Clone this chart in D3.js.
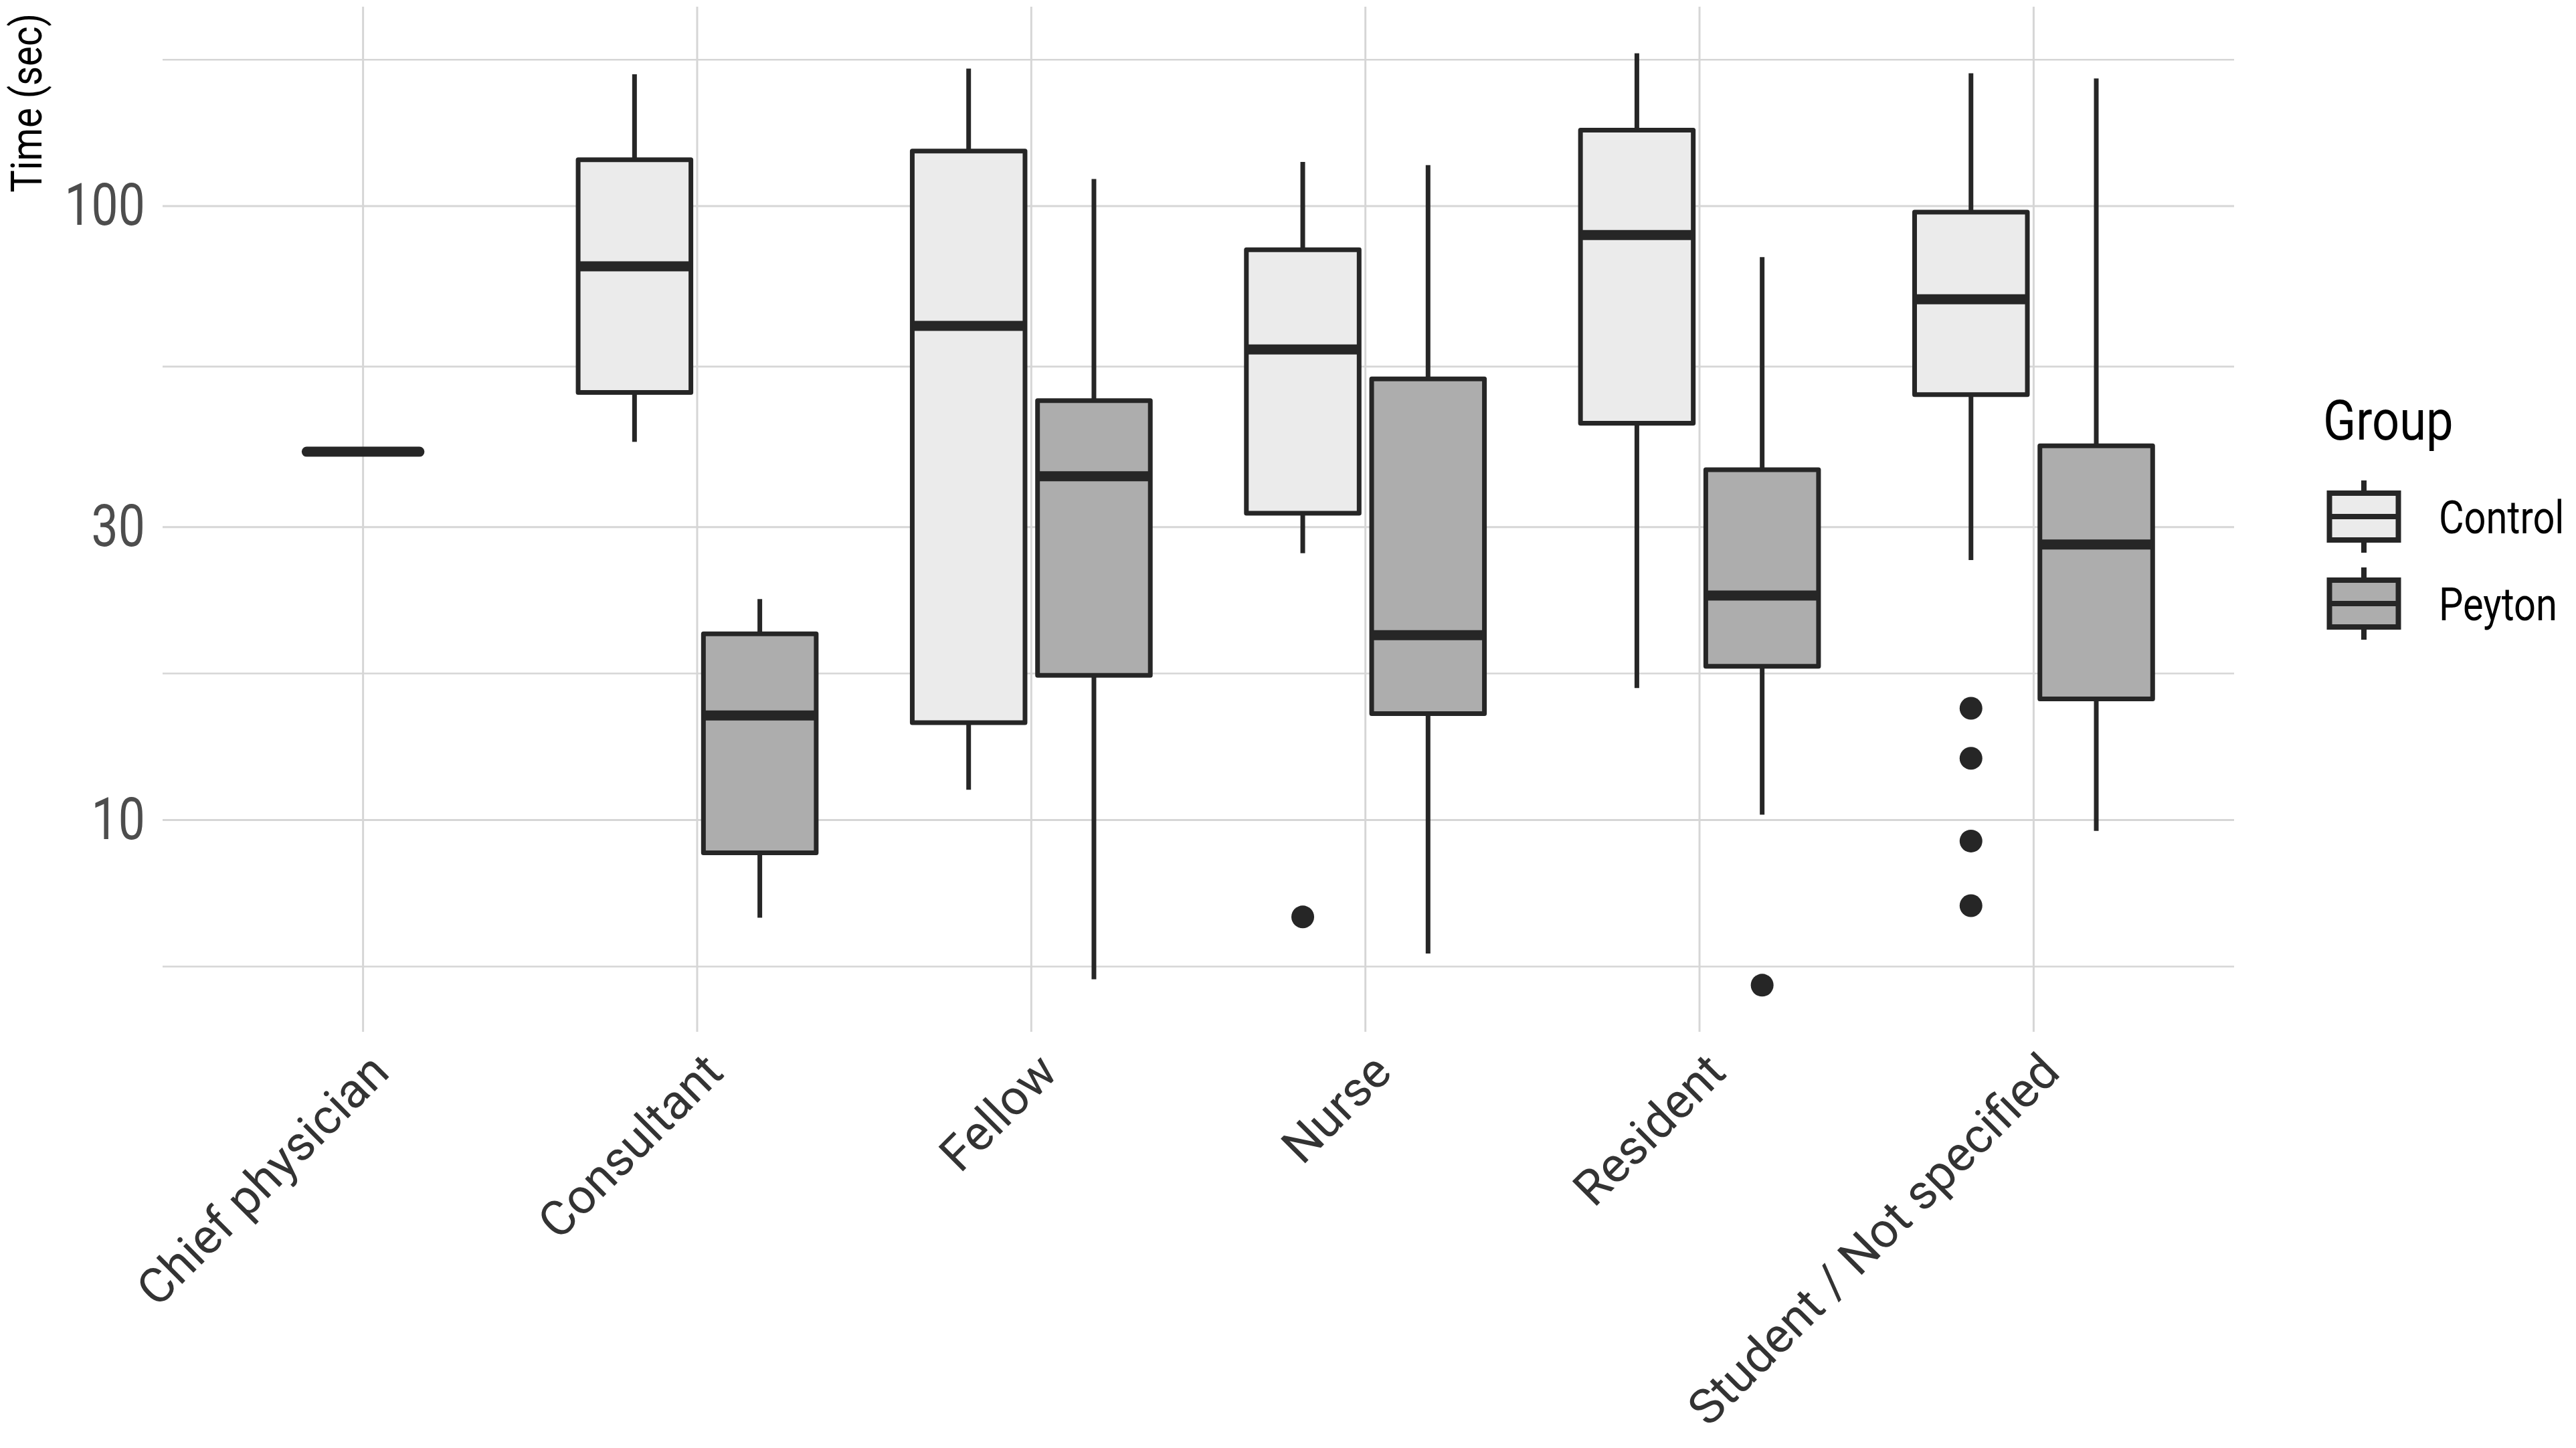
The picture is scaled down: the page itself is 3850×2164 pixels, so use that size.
<!DOCTYPE html>
<html lang="en">
  <head>
    <meta charset="UTF-8" />
    <title>Time by profession</title>
    <style>
      body { margin: 0; background: #fff; }
      text { font-family: Roboto, "Noto Sans", sans-serif; }
    </style>
  </head>
  <body>
    <svg id="svg" width="3850" height="2164"></svg>
    <script src="https://d3js.org/d3.v7.min.js"></script>
    <script>
      // Data
      const categories = [
        "Chief physician",
        "Consultant",
        "Fellow",
        "Nurse",
        "Resident",
        "Student / Not specified",
      ];
      const groups = ["Control", "Peyton"];

      const boxCategory = [
        "Chief physician",
        "Consultant", "Consultant",
        "Fellow", "Fellow",
        "Nurse", "Nurse",
        "Resident", "Resident",
        "Student / Not specified", "Student / Not specified",
      ];
      const boxGroup = [
        "Control",
        "Control", "Peyton",
        "Control", "Peyton",
        "Control", "Peyton",
        "Control", "Peyton",
        "Control", "Peyton",
      ];
      const whiskerLow = [39.8, 41.3, 6.93, 11.2, 5.5, 27.2, 6.06, 16.4, 10.2, 26.5, 9.6];
      const q1 = [39.8, 49.7, 8.84, 14.4, 17.2, 31.6, 14.9, 44.3, 17.8, 49.3, 15.75];
      const median = [39.8, 79.8, 14.8, 63.8, 36.3, 58.4, 20.0, 89.7, 23.2, 70.5, 28.1];
      const q3 = [39.8, 119, 20.1, 122.9, 48.2, 84.9, 52.3, 133, 37.2, 97.8, 40.7];
      const whiskerHigh = [39.8, 164, 22.9, 167.5, 110.7, 118, 116.6, 177.4, 82.6, 164.6, 161.4];

      const outlierCategory = [
        "Nurse",
        "Resident",
        "Student / Not specified",
        "Student / Not specified",
        "Student / Not specified",
        "Student / Not specified",
      ];
      const outlierGroup = ["Control", "Peyton", "Control", "Control", "Control", "Control"];
      const outlierValue = [6.95, 5.38, 15.2, 12.6, 9.24, 7.25];

      const yTicks = [10, 30, 100];
      const yMinorTicks = [5.77, 17.32, 54.77, 173.2];

      const svgWidth = 3850;
      const svgHeight = 2164;
      const panel = { left: 243, right: 3339, top: 10, bottom: 1542 };

      const svg = d3.select("#svg");

      const boxes = boxCategory.map((c, i) => ({
        category: c,
        group: boxGroup[i],
        low: whiskerLow[i],
        q1: q1[i],
        median: median[i],
        q3: q3[i],
        high: whiskerHigh[i],
      }));
      const outliers = outlierCategory.map((c, i) => ({
        category: c,
        group: outlierGroup[i],
        value: outlierValue[i],
      }));

      // Set up x-scale (discrete, 0.6 expansion each side)
      const xScale = d3
        .scalePoint()
        .domain(categories)
        .range([panel.left, panel.right])
        .padding(0.6);
      const step = xScale.step();

      // dodge within a category
      const dodge = d3
        .scaleBand()
        .domain(groups)
        .range([-0.375 * step, 0.375 * step])
        .paddingInner(0.1)
        .paddingOuter(0.05);
      const boxWidth = dodge.bandwidth();

      const countIn = (cat) => boxes.filter((b) => b.category === cat).length;
      const centerOf = (d) =>
        countIn(d.category) === 1
          ? xScale(d.category)
          : xScale(d.category) + dodge(d.group) + boxWidth / 2;

      // Set up y-scale (log10, 5% expansion)
      const logExtent = d3.extent(
        whiskerLow.concat(whiskerHigh, outlierValue),
        (v) => Math.log10(v)
      );
      const pad = (logExtent[1] - logExtent[0]) * 0.05;
      const yScale = d3
        .scaleLog()
        .domain([10 ** (logExtent[0] - pad), 10 ** (logExtent[1] + pad)])
        .range([panel.bottom, panel.top]);

      const fill = d3.scaleOrdinal().domain(groups).range(["#ebebeb", "#adadad"]);
      const ink = "#262626";

      // grid
      const grid = svg.append("g");
      grid
        .selectAll("line.minor")
        .data(yMinorTicks)
        .join("line")
        .attr("x1", panel.left)
        .attr("x2", panel.right)
        .attr("y1", (d) => yScale(d))
        .attr("y2", (d) => yScale(d))
        .attr("stroke", "#d6d6d6")
        .attr("stroke-width", 2.6);
      grid
        .selectAll("line.major")
        .data(yTicks)
        .join("line")
        .attr("x1", panel.left)
        .attr("x2", panel.right)
        .attr("y1", (d) => yScale(d))
        .attr("y2", (d) => yScale(d))
        .attr("stroke", "#d6d6d6")
        .attr("stroke-width", 3);
      grid
        .selectAll("line.vert")
        .data(categories)
        .join("line")
        .attr("x1", (d) => xScale(d))
        .attr("x2", (d) => xScale(d))
        .attr("y1", panel.top)
        .attr("y2", panel.bottom)
        .attr("stroke", "#d6d6d6")
        .attr("stroke-width", 3);

      // boxes
      const boxGroupSel = svg
        .append("g")
        .selectAll("g")
        .data(boxes)
        .join("g");

      boxGroupSel
        .append("line")
        .attr("x1", centerOf)
        .attr("x2", centerOf)
        .attr("y1", (d) => yScale(d.high))
        .attr("y2", (d) => yScale(d.q3))
        .attr("stroke", ink)
        .attr("stroke-width", 7);
      boxGroupSel
        .append("line")
        .attr("x1", centerOf)
        .attr("x2", centerOf)
        .attr("y1", (d) => yScale(d.q1))
        .attr("y2", (d) => yScale(d.low))
        .attr("stroke", ink)
        .attr("stroke-width", 7);
      boxGroupSel
        .append("rect")
        .attr("x", (d) => centerOf(d) - boxWidth / 2)
        .attr("y", (d) => yScale(d.q3))
        .attr("width", boxWidth)
        .attr("height", (d) => yScale(d.q1) - yScale(d.q3))
        .attr("fill", (d) => fill(d.group))
        .attr("stroke", ink)
        .attr("stroke-width", 7)
        .attr("stroke-linejoin", "round");
      boxGroupSel
        .append("line")
        .attr("x1", (d) => centerOf(d) - boxWidth / 2)
        .attr("x2", (d) => centerOf(d) + boxWidth / 2)
        .attr("y1", (d) => yScale(d.median))
        .attr("y2", (d) => yScale(d.median))
        .attr("stroke", ink)
        .attr("stroke-width", 15)
        .attr("stroke-linecap", (d) => (d.q1 === d.q3 ? "round" : "butt"));

      // outliers
      svg
        .append("g")
        .selectAll("circle")
        .data(outliers)
        .join("circle")
        .attr("cx", centerOf)
        .attr("cy", (d) => yScale(d.value))
        .attr("r", 17)
        .attr("fill", ink);

      // Displays the y-axis
      const yAxis = d3
        .axisLeft(yScale)
        .tickValues(yTicks)
        .tickFormat(d3.format("d"))
        .tickSize(0)
        .tickPadding(32);
      const yAxisG = svg
        .append("g")
        .attr("transform", `translate(${panel.left}, 0)`)
        .call(yAxis);
      yAxisG.select(".domain").remove();
      yAxisG
        .selectAll("text")
        .attr("font-family", "Roboto, sans-serif")
        .attr("font-size", 87)
        .attr("fill", "#4d4d4d")
        .attr("transform", "scale(0.82,1)");

      // Displays the x-axis
      const xAxis = d3.axisBottom(xScale).tickSize(0);
      const xAxisG = svg
        .append("g")
        .attr("transform", `translate(0, ${panel.bottom})`)
        .call(xAxis);
      xAxisG.select(".domain").remove();
      xAxisG
        .selectAll("text")
        .attr("font-family", "Roboto, sans-serif")
        .attr("font-size", 73)
        .attr("fill", "#333333")
        .attr("text-anchor", "end")
        .attr("x", 0)
        .attr("y", 0)
        .attr("dy", 0)
        .attr("transform", "translate(42, 64) rotate(-45)");

      // y title
      svg
        .append("text")
        .attr("transform", "translate(62, 20) rotate(-90) scale(0.88,1)")
        .attr("text-anchor", "end")
        .attr("font-size", 64)
        .attr("fill", "#000")
        .text("Time (sec)");

      // legend
      const legend = svg.append("g");
      legend
        .append("text")
        .attr("transform", "translate(3472, 657) scale(0.86,1)")
        .attr("font-size", 84)
        .attr("fill", "#000")
        .text("Group");

      const keyX = 3533;
      const keyW = 103;
      const keyY = d3.scalePoint().domain(groups).range([772, 902]);
      const keys = legend.selectAll("g.key").data(groups).join("g");
      keys
        .append("line")
        .attr("x1", keyX)
        .attr("x2", keyX)
        .attr("y1", (d) => keyY(d) - 54)
        .attr("y2", (d) => keyY(d) + 54)
        .attr("stroke", ink)
        .attr("stroke-width", 8);
      keys
        .append("rect")
        .attr("x", keyX - keyW / 2)
        .attr("y", (d) => keyY(d) - 35)
        .attr("width", keyW)
        .attr("height", 70)
        .attr("fill", (d) => fill(d))
        .attr("stroke", ink)
        .attr("stroke-width", 8);
      keys
        .append("line")
        .attr("x1", keyX - keyW / 2)
        .attr("x2", keyX + keyW / 2)
        .attr("y1", (d) => keyY(d))
        .attr("y2", (d) => keyY(d))
        .attr("stroke", ink)
        .attr("stroke-width", 8);
      keys
        .append("text")
        .attr("transform", (d) => `translate(3645, ${keyY(d) + 25}) scale(0.85,1)`)
        .attr("font-size", 68)
        .attr("fill", "#000")
        .text((d) => d);
    </script>
  </body>
</html>
